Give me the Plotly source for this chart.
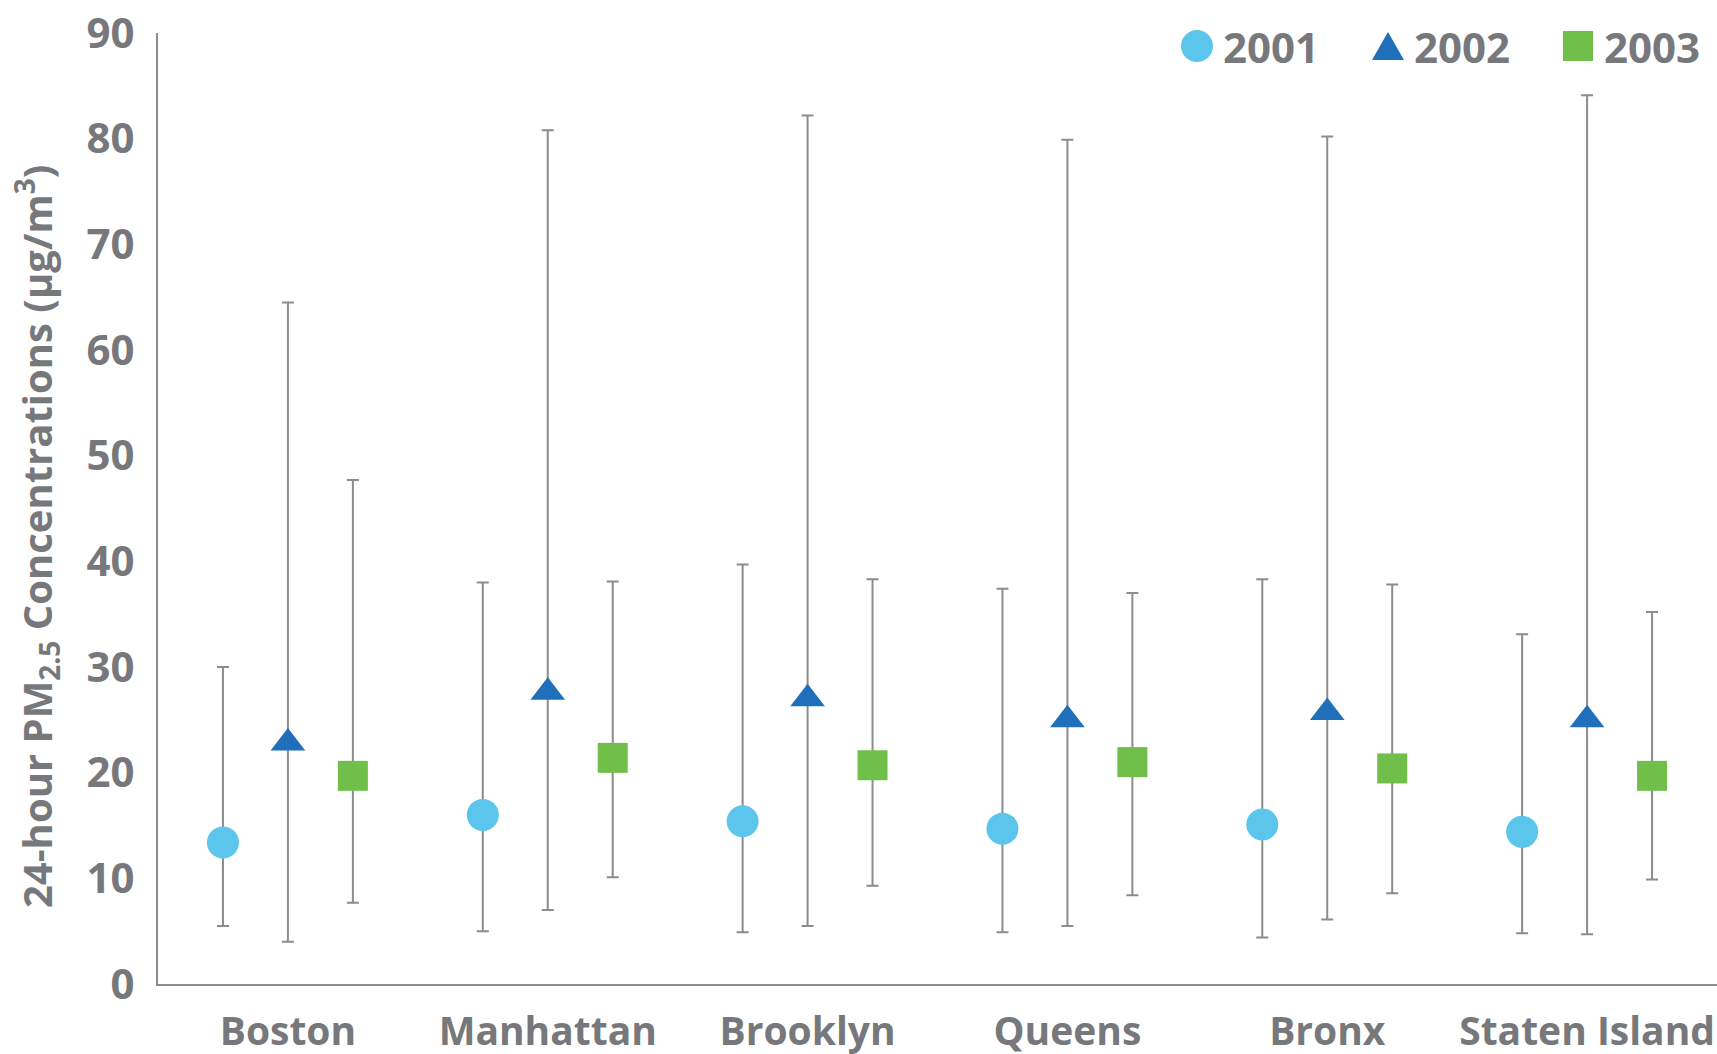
import plotly.graph_objects as go

# ---------------- data ----------------
categories = ["Boston", "Manhattan", "Brooklyn", "Queens", "Bronx", "Staten Island"]
years = ["2001", "2002", "2003"]

mean_2001 = [13.4, 16.0, 15.4, 14.7, 15.1, 14.4]
max_2001 = [30.0, 38.0, 39.7, 37.4, 38.3, 33.1]
min_2001 = [5.5, 5.0, 4.9, 4.9, 4.4, 4.8]

mean_2002 = [22.8, 27.6, 27.0, 25.0, 25.7, 25.0]
max_2002 = [64.5, 80.8, 82.2, 79.9, 80.2, 84.1]
min_2002 = [4.0, 7.0, 5.5, 5.5, 6.1, 4.7]

mean_2003 = [19.7, 21.4, 20.7, 21.0, 20.4, 19.7]
max_2003 = [47.7, 38.1, 38.3, 37.0, 37.8, 35.2]
min_2003 = [7.7, 10.1, 9.3, 8.4, 8.6, 9.9]

y_ticks = [0, 10, 20, 30, 40, 50, 60, 70, 80, 90]

# ---------------- style ----------------
W, H = 1717, 1054
L, R, T, B = 158, 0, 33, 70
PW, PH = W - L - R, H - T - B
TEXT = "#77787b"
AXIS = "#8c8c8c"
FONT = "Open Sans"
colors = ["#5bc5eb", "#1f6fba", "#70bf4b"]
symbols = ["circle", "triangle-up", "square"]
sizes = [32, 30, 30]
offsets = [-0.25, 0.0, 0.25]

means = [mean_2001, mean_2002, mean_2003]
maxs = [max_2001, max_2002, max_2003]
mins = [min_2001, min_2002, min_2003]

fig = go.Figure()
for k, yr in enumerate(years):
    xs = [i + offsets[k] for i in range(len(categories))]
    fig.add_trace(go.Scatter(
        x=xs, y=means[k], mode="markers", name=yr, showlegend=False,
        marker=dict(symbol=symbols[k], size=sizes[k], color=colors[k], line=dict(width=0)),
        error_y=dict(type="data", symmetric=False,
                     array=[hi - m for hi, m in zip(maxs[k], means[k])],
                     arrayminus=[m - lo for m, lo in zip(means[k], mins[k])],
                     color=AXIS, thickness=2, width=6),
    ))

def px2x(px):
    return (px - L) / PW

def py2y(py):
    return (H - B - py) / PH

# legend built from series names / colours
leg_sym_x = [1197, 1388, 1578]
leg_y = 46
half = 16
shapes = []
annotations = []
for k, yr in enumerate(years):
    cx = leg_sym_x[k]
    if symbols[k] == "circle":
        shapes.append(dict(type="circle", xref="paper", yref="paper",
                           x0=px2x(cx - half), x1=px2x(cx + half),
                           y0=py2y(leg_y + half), y1=py2y(leg_y - half),
                           fillcolor=colors[k], line=dict(width=0)))
    elif symbols[k] == "square":
        shapes.append(dict(type="rect", xref="paper", yref="paper",
                           x0=px2x(cx - 15), x1=px2x(cx + 15),
                           y0=py2y(leg_y + 15), y1=py2y(leg_y - 15),
                           fillcolor=colors[k], line=dict(width=0)))
    else:
        p = "M {:.5f} {:.5f} L {:.5f} {:.5f} L {:.5f} {:.5f} Z".format(
            px2x(cx - 16), py2y(leg_y + 14), px2x(cx + 16), py2y(leg_y + 14),
            px2x(cx), py2y(leg_y - 14))
        shapes.append(dict(type="path", xref="paper", yref="paper", path=p,
                           fillcolor=colors[k], line=dict(width=0)))
    annotations.append(dict(text="<b>" + yr + "</b>", xref="paper", yref="paper",
                            x=px2x(cx + 24), y=py2y(leg_y), xanchor="left", yanchor="middle",
                            showarrow=False, font=dict(family=FONT, size=42, color=TEXT)))

annotations.append(dict(
    text="<b>24-hour PM<sub>2.5</sub> Concentrations (μg/m<sup>3</sup>)</b>",
    xref="paper", yref="paper", x=px2x(36), y=py2y(537), textangle=-90,
    xanchor="center", yanchor="middle", showarrow=False,
    font=dict(family=FONT, size=40, color=TEXT)))

fig.update_layout(
    width=W, height=H, margin=dict(l=L, r=R, t=T, b=B, autoexpand=False),
    paper_bgcolor="white", plot_bgcolor="white",
    font=dict(family=FONT, color=TEXT),
    showlegend=False, shapes=shapes, annotations=annotations,
    xaxis=dict(range=[-0.5, len(categories) - 0.5], tickvals=list(range(len(categories))),
               ticktext=["<b>" + c + "</b>" for c in categories],
               tickfont=dict(family=FONT, size=39, color=TEXT),
               showline=True, linecolor=AXIS, linewidth=2, showgrid=False, zeroline=False,
               ticks="", ticklabelstandoff=12, automargin=False, ticklabeloverflow="allow"),
    yaxis=dict(range=[0, 90], tickvals=y_ticks, ticktext=["<b>%d</b>" % v for v in y_ticks],
               tickfont=dict(family=FONT, size=42, color=TEXT),
               showline=True, linecolor=AXIS, linewidth=2, showgrid=False, zeroline=False,
               ticks="", ticklabelstandoff=13, automargin=False, ticklabeloverflow="allow"),
)

fig.write_html("out.html")
